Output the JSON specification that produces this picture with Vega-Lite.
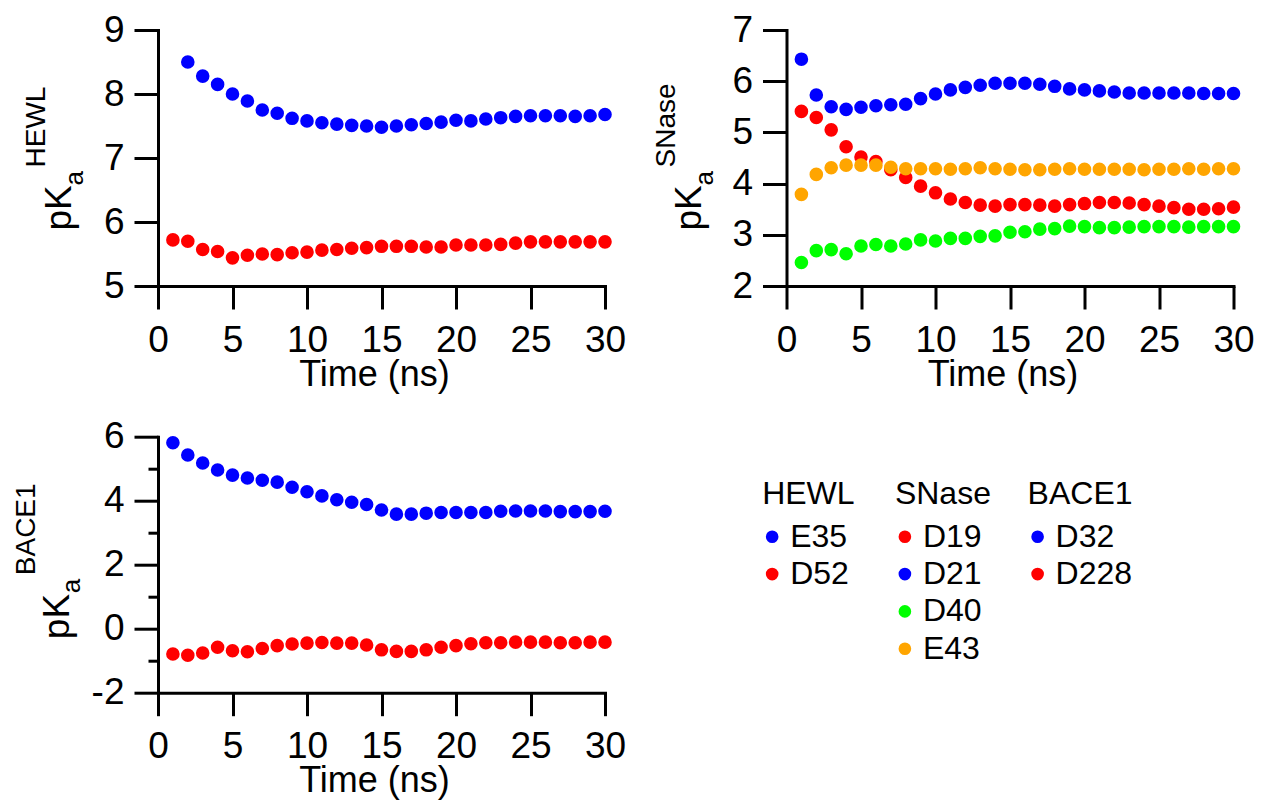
{
  "$schema": "https://vega.github.io/schema/vega-lite/v6.json",
  "background": "white",
  "padding": {"left": 12, "top": 11, "right": 5, "bottom": 5},
  "datasets": {
    "hewl": [
      {"t": 2, "site": "E35", "pKa": 8.50}, {"t": 3, "site": "E35", "pKa": 8.28}, {"t": 4, "site": "E35", "pKa": 8.15},
      {"t": 5, "site": "E35", "pKa": 8.00}, {"t": 6, "site": "E35", "pKa": 7.89}, {"t": 7, "site": "E35", "pKa": 7.75},
      {"t": 8, "site": "E35", "pKa": 7.70}, {"t": 9, "site": "E35", "pKa": 7.62}, {"t": 10, "site": "E35", "pKa": 7.58},
      {"t": 11, "site": "E35", "pKa": 7.55}, {"t": 12, "site": "E35", "pKa": 7.53}, {"t": 13, "site": "E35", "pKa": 7.51},
      {"t": 14, "site": "E35", "pKa": 7.50}, {"t": 15, "site": "E35", "pKa": 7.48}, {"t": 16, "site": "E35", "pKa": 7.50},
      {"t": 17, "site": "E35", "pKa": 7.52}, {"t": 18, "site": "E35", "pKa": 7.54}, {"t": 19, "site": "E35", "pKa": 7.56},
      {"t": 20, "site": "E35", "pKa": 7.59}, {"t": 21, "site": "E35", "pKa": 7.58}, {"t": 22, "site": "E35", "pKa": 7.61},
      {"t": 23, "site": "E35", "pKa": 7.63}, {"t": 24, "site": "E35", "pKa": 7.65}, {"t": 25, "site": "E35", "pKa": 7.66},
      {"t": 26, "site": "E35", "pKa": 7.66}, {"t": 27, "site": "E35", "pKa": 7.66}, {"t": 28, "site": "E35", "pKa": 7.65},
      {"t": 29, "site": "E35", "pKa": 7.66}, {"t": 30, "site": "E35", "pKa": 7.68},
      {"t": 1, "site": "D52", "pKa": 5.72}, {"t": 2, "site": "D52", "pKa": 5.70}, {"t": 3, "site": "D52", "pKa": 5.57},
      {"t": 4, "site": "D52", "pKa": 5.54}, {"t": 5, "site": "D52", "pKa": 5.44}, {"t": 6, "site": "D52", "pKa": 5.48},
      {"t": 7, "site": "D52", "pKa": 5.50}, {"t": 8, "site": "D52", "pKa": 5.49}, {"t": 9, "site": "D52", "pKa": 5.52},
      {"t": 10, "site": "D52", "pKa": 5.53}, {"t": 11, "site": "D52", "pKa": 5.56}, {"t": 12, "site": "D52", "pKa": 5.57},
      {"t": 13, "site": "D52", "pKa": 5.59}, {"t": 14, "site": "D52", "pKa": 5.60}, {"t": 15, "site": "D52", "pKa": 5.62},
      {"t": 16, "site": "D52", "pKa": 5.62}, {"t": 17, "site": "D52", "pKa": 5.62}, {"t": 18, "site": "D52", "pKa": 5.61},
      {"t": 19, "site": "D52", "pKa": 5.61}, {"t": 20, "site": "D52", "pKa": 5.64}, {"t": 21, "site": "D52", "pKa": 5.64},
      {"t": 22, "site": "D52", "pKa": 5.64}, {"t": 23, "site": "D52", "pKa": 5.65}, {"t": 24, "site": "D52", "pKa": 5.67},
      {"t": 25, "site": "D52", "pKa": 5.69}, {"t": 26, "site": "D52", "pKa": 5.69}, {"t": 27, "site": "D52", "pKa": 5.69},
      {"t": 28, "site": "D52", "pKa": 5.69}, {"t": 29, "site": "D52", "pKa": 5.69}, {"t": 30, "site": "D52", "pKa": 5.69}
    ],
    "snase": [
      {"t": 1, "site": "D19", "pKa": 5.41}, {"t": 2, "site": "D19", "pKa": 5.29}, {"t": 3, "site": "D19", "pKa": 5.05},
      {"t": 4, "site": "D19", "pKa": 4.72}, {"t": 5, "site": "D19", "pKa": 4.52}, {"t": 6, "site": "D19", "pKa": 4.43},
      {"t": 7, "site": "D19", "pKa": 4.27}, {"t": 8, "site": "D19", "pKa": 4.12}, {"t": 9, "site": "D19", "pKa": 3.95},
      {"t": 10, "site": "D19", "pKa": 3.82}, {"t": 11, "site": "D19", "pKa": 3.70}, {"t": 12, "site": "D19", "pKa": 3.63},
      {"t": 13, "site": "D19", "pKa": 3.58}, {"t": 14, "site": "D19", "pKa": 3.56}, {"t": 15, "site": "D19", "pKa": 3.59},
      {"t": 16, "site": "D19", "pKa": 3.59}, {"t": 17, "site": "D19", "pKa": 3.58}, {"t": 18, "site": "D19", "pKa": 3.56},
      {"t": 19, "site": "D19", "pKa": 3.59}, {"t": 20, "site": "D19", "pKa": 3.61}, {"t": 21, "site": "D19", "pKa": 3.63},
      {"t": 22, "site": "D19", "pKa": 3.63}, {"t": 23, "site": "D19", "pKa": 3.62}, {"t": 24, "site": "D19", "pKa": 3.59},
      {"t": 25, "site": "D19", "pKa": 3.56}, {"t": 26, "site": "D19", "pKa": 3.53}, {"t": 27, "site": "D19", "pKa": 3.50},
      {"t": 28, "site": "D19", "pKa": 3.50}, {"t": 29, "site": "D19", "pKa": 3.51}, {"t": 30, "site": "D19", "pKa": 3.54},
      {"t": 1, "site": "D21", "pKa": 6.43}, {"t": 2, "site": "D21", "pKa": 5.73}, {"t": 3, "site": "D21", "pKa": 5.50},
      {"t": 4, "site": "D21", "pKa": 5.45}, {"t": 5, "site": "D21", "pKa": 5.49}, {"t": 6, "site": "D21", "pKa": 5.52},
      {"t": 7, "site": "D21", "pKa": 5.54}, {"t": 8, "site": "D21", "pKa": 5.55}, {"t": 9, "site": "D21", "pKa": 5.66},
      {"t": 10, "site": "D21", "pKa": 5.75}, {"t": 11, "site": "D21", "pKa": 5.83}, {"t": 12, "site": "D21", "pKa": 5.88},
      {"t": 13, "site": "D21", "pKa": 5.92}, {"t": 14, "site": "D21", "pKa": 5.96}, {"t": 15, "site": "D21", "pKa": 5.96},
      {"t": 16, "site": "D21", "pKa": 5.96}, {"t": 17, "site": "D21", "pKa": 5.94}, {"t": 18, "site": "D21", "pKa": 5.90},
      {"t": 19, "site": "D21", "pKa": 5.85}, {"t": 20, "site": "D21", "pKa": 5.83}, {"t": 21, "site": "D21", "pKa": 5.81},
      {"t": 22, "site": "D21", "pKa": 5.79}, {"t": 23, "site": "D21", "pKa": 5.77}, {"t": 24, "site": "D21", "pKa": 5.77},
      {"t": 25, "site": "D21", "pKa": 5.77}, {"t": 26, "site": "D21", "pKa": 5.77}, {"t": 27, "site": "D21", "pKa": 5.77},
      {"t": 28, "site": "D21", "pKa": 5.76}, {"t": 29, "site": "D21", "pKa": 5.76}, {"t": 30, "site": "D21", "pKa": 5.76},
      {"t": 1, "site": "D40", "pKa": 2.46}, {"t": 2, "site": "D40", "pKa": 2.69}, {"t": 3, "site": "D40", "pKa": 2.71},
      {"t": 4, "site": "D40", "pKa": 2.63}, {"t": 5, "site": "D40", "pKa": 2.78}, {"t": 6, "site": "D40", "pKa": 2.81},
      {"t": 7, "site": "D40", "pKa": 2.78}, {"t": 8, "site": "D40", "pKa": 2.82}, {"t": 9, "site": "D40", "pKa": 2.90},
      {"t": 10, "site": "D40", "pKa": 2.88}, {"t": 11, "site": "D40", "pKa": 2.93}, {"t": 12, "site": "D40", "pKa": 2.93},
      {"t": 13, "site": "D40", "pKa": 2.97}, {"t": 14, "site": "D40", "pKa": 2.98}, {"t": 15, "site": "D40", "pKa": 3.05},
      {"t": 16, "site": "D40", "pKa": 3.06}, {"t": 17, "site": "D40", "pKa": 3.11}, {"t": 18, "site": "D40", "pKa": 3.12},
      {"t": 19, "site": "D40", "pKa": 3.17}, {"t": 20, "site": "D40", "pKa": 3.16}, {"t": 21, "site": "D40", "pKa": 3.14},
      {"t": 22, "site": "D40", "pKa": 3.14}, {"t": 23, "site": "D40", "pKa": 3.15}, {"t": 24, "site": "D40", "pKa": 3.16},
      {"t": 25, "site": "D40", "pKa": 3.16}, {"t": 26, "site": "D40", "pKa": 3.16}, {"t": 27, "site": "D40", "pKa": 3.15},
      {"t": 28, "site": "D40", "pKa": 3.16}, {"t": 29, "site": "D40", "pKa": 3.16}, {"t": 30, "site": "D40", "pKa": 3.16},
      {"t": 1, "site": "E43", "pKa": 3.79}, {"t": 2, "site": "E43", "pKa": 4.18}, {"t": 3, "site": "E43", "pKa": 4.31},
      {"t": 4, "site": "E43", "pKa": 4.36}, {"t": 5, "site": "E43", "pKa": 4.36}, {"t": 6, "site": "E43", "pKa": 4.36},
      {"t": 7, "site": "E43", "pKa": 4.32}, {"t": 8, "site": "E43", "pKa": 4.29}, {"t": 9, "site": "E43", "pKa": 4.29},
      {"t": 10, "site": "E43", "pKa": 4.29}, {"t": 11, "site": "E43", "pKa": 4.28}, {"t": 12, "site": "E43", "pKa": 4.29},
      {"t": 13, "site": "E43", "pKa": 4.31}, {"t": 14, "site": "E43", "pKa": 4.29}, {"t": 15, "site": "E43", "pKa": 4.28},
      {"t": 16, "site": "E43", "pKa": 4.27}, {"t": 17, "site": "E43", "pKa": 4.27}, {"t": 18, "site": "E43", "pKa": 4.28},
      {"t": 19, "site": "E43", "pKa": 4.29}, {"t": 20, "site": "E43", "pKa": 4.28}, {"t": 21, "site": "E43", "pKa": 4.28},
      {"t": 22, "site": "E43", "pKa": 4.28}, {"t": 23, "site": "E43", "pKa": 4.28}, {"t": 24, "site": "E43", "pKa": 4.27},
      {"t": 25, "site": "E43", "pKa": 4.28}, {"t": 26, "site": "E43", "pKa": 4.28}, {"t": 27, "site": "E43", "pKa": 4.29},
      {"t": 28, "site": "E43", "pKa": 4.28}, {"t": 29, "site": "E43", "pKa": 4.29}, {"t": 30, "site": "E43", "pKa": 4.29}
    ],
    "bace1": [
      {"t": 1, "site": "D32", "pKa": 5.81}, {"t": 2, "site": "D32", "pKa": 5.43}, {"t": 3, "site": "D32", "pKa": 5.18},
      {"t": 4, "site": "D32", "pKa": 4.96}, {"t": 5, "site": "D32", "pKa": 4.80}, {"t": 6, "site": "D32", "pKa": 4.71},
      {"t": 7, "site": "D32", "pKa": 4.64}, {"t": 8, "site": "D32", "pKa": 4.58}, {"t": 9, "site": "D32", "pKa": 4.42},
      {"t": 10, "site": "D32", "pKa": 4.28}, {"t": 11, "site": "D32", "pKa": 4.15}, {"t": 12, "site": "D32", "pKa": 4.03},
      {"t": 13, "site": "D32", "pKa": 3.95}, {"t": 14, "site": "D32", "pKa": 3.88}, {"t": 15, "site": "D32", "pKa": 3.71},
      {"t": 16, "site": "D32", "pKa": 3.58}, {"t": 17, "site": "D32", "pKa": 3.58}, {"t": 18, "site": "D32", "pKa": 3.61},
      {"t": 19, "site": "D32", "pKa": 3.63}, {"t": 20, "site": "D32", "pKa": 3.63}, {"t": 21, "site": "D32", "pKa": 3.63},
      {"t": 22, "site": "D32", "pKa": 3.63}, {"t": 23, "site": "D32", "pKa": 3.67}, {"t": 24, "site": "D32", "pKa": 3.68},
      {"t": 25, "site": "D32", "pKa": 3.68}, {"t": 26, "site": "D32", "pKa": 3.68}, {"t": 27, "site": "D32", "pKa": 3.66},
      {"t": 28, "site": "D32", "pKa": 3.66}, {"t": 29, "site": "D32", "pKa": 3.66}, {"t": 30, "site": "D32", "pKa": 3.67},
      {"t": 1, "site": "D228", "pKa": -0.79}, {"t": 2, "site": "D228", "pKa": -0.83}, {"t": 3, "site": "D228", "pKa": -0.76},
      {"t": 4, "site": "D228", "pKa": -0.58}, {"t": 5, "site": "D228", "pKa": -0.69}, {"t": 6, "site": "D228", "pKa": -0.72},
      {"t": 7, "site": "D228", "pKa": -0.62}, {"t": 8, "site": "D228", "pKa": -0.53}, {"t": 9, "site": "D228", "pKa": -0.48},
      {"t": 10, "site": "D228", "pKa": -0.45}, {"t": 11, "site": "D228", "pKa": -0.43}, {"t": 12, "site": "D228", "pKa": -0.45},
      {"t": 13, "site": "D228", "pKa": -0.45}, {"t": 14, "site": "D228", "pKa": -0.51}, {"t": 15, "site": "D228", "pKa": -0.66},
      {"t": 16, "site": "D228", "pKa": -0.71}, {"t": 17, "site": "D228", "pKa": -0.71}, {"t": 18, "site": "D228", "pKa": -0.66},
      {"t": 19, "site": "D228", "pKa": -0.58}, {"t": 20, "site": "D228", "pKa": -0.53}, {"t": 21, "site": "D228", "pKa": -0.47},
      {"t": 22, "site": "D228", "pKa": -0.44}, {"t": 23, "site": "D228", "pKa": -0.44}, {"t": 24, "site": "D228", "pKa": -0.42},
      {"t": 25, "site": "D228", "pKa": -0.42}, {"t": 26, "site": "D228", "pKa": -0.42}, {"t": 27, "site": "D228", "pKa": -0.44},
      {"t": 28, "site": "D228", "pKa": -0.44}, {"t": 29, "site": "D228", "pKa": -0.42}, {"t": 30, "site": "D228", "pKa": -0.42}
    ],
    "key": [
      {"col": 0, "row": 0, "label": "HEWL"},
      {"col": 0, "row": 1, "label": "E35", "site": "E35"},
      {"col": 0, "row": 2, "label": "D52", "site": "D52"},
      {"col": 1, "row": 0, "label": "SNase"},
      {"col": 1, "row": 1, "label": "D19", "site": "D19"},
      {"col": 1, "row": 2, "label": "D21", "site": "D21"},
      {"col": 1, "row": 3, "label": "D40", "site": "D40"},
      {"col": 1, "row": 4, "label": "E43", "site": "E43"},
      {"col": 2, "row": 0, "label": "BACE1"},
      {"col": 2, "row": 1, "label": "D32", "site": "D32"},
      {"col": 2, "row": 2, "label": "D228", "site": "D228"}
    ]
  },
  "columns": 2,
  "bounds": "flush",
  "spacing": {"row": 150.7, "column": 181.5},
  "concat": [
    {
      "width": 447, "height": 256,
      "data": {"name": "hewl"},
      "layer": [
        {
          "mark": {"type": "point", "filled": true, "shape": "circle", "size": 185, "opacity": 1},
          "encoding": {
            "x": {"field": "t", "type": "quantitative", "scale": {"domain": [0, 30], "nice": false},
                  "axis": {"values": [0, 5, 10, 15, 20, 25, 30], "tickSize": 23, "labelPadding": 42, "labelBaseline": "alphabetic", "labelFontSize": 37,
                           "title": "Time (ns)", "titleFontSize": 36, "titleX": 216, "titleY": 99, "titleBaseline": "alphabetic", "titleAlign": "center"}},
            "y": {"field": "pKa", "type": "quantitative", "scale": {"domain": [5, 9], "nice": false, "zero": false},
                  "axis": {"values": [5, 6, 7, 8, 9], "tickSize": 24, "labelPadding": 10, "labelFontSize": 37,
                           "title": "pK", "titleFontSize": 37, "titleAngle": 270, "titleAlign": "left", "titleBaseline": "alphabetic", "titleX": -88, "titleY": 200}},
            "color": {"field": "site", "type": "nominal", "legend": null,
                      "scale": {"domain": ["E35", "D52", "D19", "D21", "D40", "E43", "D32", "D228"],
                                "range": ["#0000ff", "#ff0000", "#ff0000", "#0000ff", "#00ff00", "#ffa500", "#0000ff", "#ff0000"]}}
          }
        },
        {
          "mark": {"type": "point", "opacity": 0},
          "encoding": {
            "x": {"field": "t", "type": "quantitative", "scale": {"domain": [0, 30], "nice": false},
                  "axis": {"values": [0, 5, 10, 15, 20, 25, 30], "tickSize": 23, "labelPadding": 42, "labelBaseline": "alphabetic", "labelFontSize": 37,
                           "title": "Time (ns)", "titleFontSize": 36, "titleX": 216, "titleY": 99, "titleBaseline": "alphabetic", "titleAlign": "center"}},
            "y": {"field": "pKa", "type": "quantitative", "scale": {"domain": [5, 9], "nice": false, "zero": false},
                  "axis": {"orient": "left", "labels": false, "ticks": false, "domain": false,
                           "title": "a", "titleFontSize": 26, "titleAngle": 270, "titleAlign": "left", "titleBaseline": "alphabetic", "titleX": -76, "titleY": 155,
                           "encode": {"title": {"update": {"fontSize": {"value": 26}}}}}}
          }
        },
        {
          "mark": {"type": "point", "opacity": 0},
          "encoding": {
            "x": {"field": "t", "type": "quantitative", "scale": {"domain": [0, 30], "nice": false},
                  "axis": {"values": [0, 5, 10, 15, 20, 25, 30], "tickSize": 23, "labelPadding": 42, "labelBaseline": "alphabetic", "labelFontSize": 37,
                           "title": "Time (ns)", "titleFontSize": 36, "titleX": 216, "titleY": 99, "titleBaseline": "alphabetic", "titleAlign": "center"}},
            "y": {"field": "pKa", "type": "quantitative", "scale": {"domain": [5, 9], "nice": false, "zero": false},
                  "axis": {"orient": "left", "labels": false, "ticks": false, "domain": false,
                           "title": "HEWL", "titleFontSize": 28, "titleAngle": 270, "titleAlign": "left", "titleBaseline": "alphabetic", "titleX": -114, "titleY": 137,
                           "encode": {"title": {"update": {"fontSize": {"value": 28}}}}}}
          }
        }
      ],
      "resolve": {"axis": {"y": "independent"}}
    },
    {
      "width": 447, "height": 256,
      "data": {"name": "snase"},
      "layer": [
        {
          "mark": {"type": "point", "filled": true, "shape": "circle", "size": 185, "opacity": 1},
          "encoding": {
            "x": {"field": "t", "type": "quantitative", "scale": {"domain": [0, 30], "nice": false},
                  "axis": {"values": [0, 5, 10, 15, 20, 25, 30], "tickSize": 23, "labelPadding": 42, "labelBaseline": "alphabetic", "labelFontSize": 37,
                           "title": "Time (ns)", "titleFontSize": 36, "titleX": 216, "titleY": 99, "titleBaseline": "alphabetic", "titleAlign": "center"}},
            "y": {"field": "pKa", "type": "quantitative", "scale": {"domain": [2, 7], "nice": false, "zero": false},
                  "axis": {"values": [2, 3, 4, 5, 6, 7], "tickSize": 24, "labelPadding": 10, "labelFontSize": 37,
                           "title": "pK", "titleFontSize": 37, "titleAngle": 270, "titleAlign": "left", "titleBaseline": "alphabetic", "titleX": -86, "titleY": 200}},
            "color": {"field": "site", "type": "nominal", "legend": null}
          }
        },
        {
          "mark": {"type": "point", "opacity": 0},
          "encoding": {
            "x": {"field": "t", "type": "quantitative", "scale": {"domain": [0, 30], "nice": false},
                  "axis": {"values": [0, 5, 10, 15, 20, 25, 30], "tickSize": 23, "labelPadding": 42, "labelBaseline": "alphabetic", "labelFontSize": 37,
                           "title": "Time (ns)", "titleFontSize": 36, "titleX": 216, "titleY": 99, "titleBaseline": "alphabetic", "titleAlign": "center"}},
            "y": {"field": "pKa", "type": "quantitative", "scale": {"domain": [2, 7], "nice": false, "zero": false},
                  "axis": {"orient": "left", "labels": false, "ticks": false, "domain": false,
                           "title": "a", "titleFontSize": 26, "titleAngle": 270, "titleAlign": "left", "titleBaseline": "alphabetic", "titleX": -74, "titleY": 155,
                           "encode": {"title": {"update": {"fontSize": {"value": 26}}}}}}
          }
        },
        {
          "mark": {"type": "point", "opacity": 0},
          "encoding": {
            "x": {"field": "t", "type": "quantitative", "scale": {"domain": [0, 30], "nice": false},
                  "axis": {"values": [0, 5, 10, 15, 20, 25, 30], "tickSize": 23, "labelPadding": 42, "labelBaseline": "alphabetic", "labelFontSize": 37,
                           "title": "Time (ns)", "titleFontSize": 36, "titleX": 216, "titleY": 99, "titleBaseline": "alphabetic", "titleAlign": "center"}},
            "y": {"field": "pKa", "type": "quantitative", "scale": {"domain": [2, 7], "nice": false, "zero": false},
                  "axis": {"orient": "left", "labels": false, "ticks": false, "domain": false,
                           "title": "SNase", "titleFontSize": 28, "titleAngle": 270, "titleAlign": "left", "titleBaseline": "alphabetic", "titleX": -112, "titleY": 137,
                           "encode": {"title": {"update": {"fontSize": {"value": 28}}}}}}
          }
        }
      ],
      "resolve": {"axis": {"y": "independent"}}
    },
    {
      "width": 447, "height": 256,
      "data": {"name": "bace1"},
      "layer": [
        {
          "mark": {"type": "point", "filled": true, "shape": "circle", "size": 185, "opacity": 1},
          "encoding": {
            "x": {"field": "t", "type": "quantitative", "scale": {"domain": [0, 30], "nice": false},
                  "axis": {"values": [0, 5, 10, 15, 20, 25, 30], "tickSize": 23, "labelPadding": 42, "labelBaseline": "alphabetic", "labelFontSize": 37,
                           "title": "Time (ns)", "titleFontSize": 36, "titleX": 216, "titleY": 99, "titleBaseline": "alphabetic", "titleAlign": "center"}},
            "y": {"field": "pKa", "type": "quantitative", "scale": {"domain": [-2, 6], "nice": false, "zero": false},
                  "axis": {"values": [-2, 0, 2, 4, 6], "tickSize": 24, "labelPadding": 10, "labelFontSize": 37, "labelExpr": "datum.value + ''",
                           "title": "pK", "titleFontSize": 37, "titleAngle": 270, "titleAlign": "left", "titleBaseline": "alphabetic", "titleX": -90, "titleY": 202}},
            "color": {"field": "site", "type": "nominal", "legend": null}
          }
        },
        {
          "mark": {"type": "point", "opacity": 0},
          "encoding": {
            "x": {"field": "t", "type": "quantitative", "scale": {"domain": [0, 30], "nice": false},
                  "axis": {"values": [0, 5, 10, 15, 20, 25, 30], "tickSize": 23, "labelPadding": 42, "labelBaseline": "alphabetic", "labelFontSize": 37,
                           "title": "Time (ns)", "titleFontSize": 36, "titleX": 216, "titleY": 99, "titleBaseline": "alphabetic", "titleAlign": "center"}},
            "y": {"field": "pKa", "type": "quantitative", "scale": {"domain": [-2, 6], "nice": false, "zero": false},
                  "axis": {"orient": "left", "labels": false, "ticks": true, "tickSize": 10, "values": [-1, 1, 3, 5], "domain": false,
                           "title": "a", "titleFontSize": 26, "titleAngle": 270, "titleAlign": "left", "titleBaseline": "alphabetic", "titleX": -79, "titleY": 156,
                           "encode": {"title": {"update": {"fontSize": {"value": 26}}}}}}
          }
        },
        {
          "mark": {"type": "point", "opacity": 0},
          "encoding": {
            "x": {"field": "t", "type": "quantitative", "scale": {"domain": [0, 30], "nice": false},
                  "axis": {"values": [0, 5, 10, 15, 20, 25, 30], "tickSize": 23, "labelPadding": 42, "labelBaseline": "alphabetic", "labelFontSize": 37,
                           "title": "Time (ns)", "titleFontSize": 36, "titleX": 216, "titleY": 99, "titleBaseline": "alphabetic", "titleAlign": "center"}},
            "y": {"field": "pKa", "type": "quantitative", "scale": {"domain": [-2, 6], "nice": false, "zero": false},
                  "axis": {"orient": "left", "labels": false, "ticks": false, "domain": false,
                           "title": "BACE1", "titleFontSize": 28, "titleAngle": 270, "titleAlign": "left", "titleBaseline": "alphabetic", "titleX": -124, "titleY": 138,
                           "encode": {"title": {"update": {"fontSize": {"value": 28}}}}}}
          }
        }
      ],
      "resolve": {"axis": {"y": "independent"}}
    },
    {
      "width": 447, "height": 256,
      "data": {"name": "key"},
      "encoding": {
        "x": {"field": "col", "type": "quantitative", "scale": {"domain": [0.108, 3.476], "nice": false, "zero": false}, "axis": null},
        "y": {"field": "row", "type": "quantitative", "scale": {"domain": [-1.679, 5.178], "nice": false, "zero": false, "reverse": true}, "axis": null}
      },
      "layer": [
        {
          "transform": [{"filter": "datum.row > 0"}],
          "mark": {"type": "point", "filled": true, "shape": "circle", "size": 160, "opacity": 1},
          "encoding": {"color": {"field": "site", "type": "nominal", "legend": null}}
        },
        {
          "transform": [{"filter": "datum.row > 0"}],
          "mark": {"type": "text", "align": "left", "baseline": "middle", "dx": 18, "fontSize": 32, "font": "Liberation Sans", "color": "black"},
          "encoding": {"text": {"field": "label"}}
        },
        {
          "transform": [{"filter": "datum.row == 0"}],
          "mark": {"type": "text", "align": "left", "baseline": "middle", "dx": -10, "dy": -5, "fontSize": 32, "font": "Liberation Sans", "color": "black"},
          "encoding": {"text": {"field": "label"}}
        }
      ]
    }
  ],
  "config": {
    "view": {"stroke": null},
    "font": "Liberation Sans",
    "axis": {
      "grid": false,
      "domainColor": "black", "domainWidth": 3, "domainCap": "square",
      "tickColor": "black", "tickWidth": 3,
      "labelFont": "Liberation Sans", "labelFontSize": 37, "labelColor": "black",
      "labelFlush": false, "labelOverlap": false, "labelBound": false,
      "titleFont": "Liberation Sans", "titleFontSize": 36, "titleFontWeight": "normal", "titleColor": "black"
    }
  }
}
